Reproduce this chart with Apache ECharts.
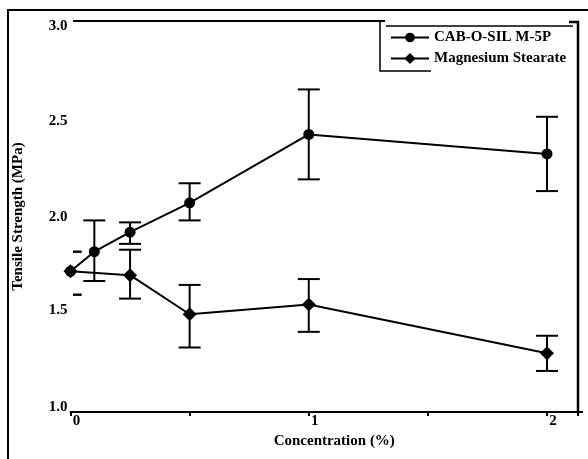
<!DOCTYPE html>
<html><head><meta charset="utf-8">
<script src="https://cdn.jsdelivr.net/npm/echarts@6/dist/echarts.min.js"></script>
<style>html,body{margin:0;padding:0;background:#fff}#c{width:588px;height:459px}</style>
</head><body><div id="c"></div>
<script>
// ---- data ----
const seriesNames = ['CAB-O-SIL M-5P', 'Magnesium Stearate'];
const xLabelValues = [0, 1, 2];
const yTickLabels = ['1.0', '1.5', '2.0', '2.5', '3.0'];

const cabX    = [0,    0.1,  0.25, 0.5,  1,    2];
const cabMean = [1.72, 1.82, 1.92, 2.07, 2.42, 2.32];
const cabLow  = [1.60, 1.67, 1.86, 1.98, 2.19, 2.13];
const cabHigh = [1.82, 1.98, 1.97, 2.17, 2.65, 2.51];

const mgX    = [0,    0.25, 0.5,  1,    2];
const mgMean = [1.72, 1.70, 1.50, 1.55, 1.30];
const mgLow  = [1.60, 1.58, 1.33, 1.41, 1.21];
const mgHigh = [1.82, 1.83, 1.65, 1.68, 1.39];

// ---- build ----
const FONT = '"Liberation Serif","Times New Roman",serif';
const zip2 = (a, b) => a.map((v, i) => [v, b[i]]);
const zip3 = (a, b, c) => a.map((v, i) => [v, b[i], c[i]]);
const yLabelStyle = ['u5', 'u4', 'n', 'd2', 'd5'];
const lab = { fontFamily: FONT, fontWeight: 'bold', fontSize: 15, color: '#000' };

function errRender(params, api) {
  const x = api.value(0), lo = api.value(1), hi = api.value(2);
  const top = api.coord([x, hi]);
  const bot = api.coord([x, lo]);
  const half = 11;
  const cs = params.coordSys;
  const rect = { x: cs.x + 2.5, y: cs.y, width: cs.width - 2.5, height: cs.height };
  const children = [];
  if (top[0] >= rect.x) {
    children.push({ type: 'line', shape: { x1: top[0], y1: top[1], x2: bot[0], y2: bot[1] },
      style: { stroke: '#000', lineWidth: 2 } });
  }
  [top, bot].forEach(p => {
    const seg = echarts.graphic.clipPointsByRect([[p[0] - half, p[1]], [p[0] + half, p[1]]], rect);
    children.push({ type: 'line', shape: { x1: seg[0][0], y1: seg[0][1], x2: seg[1][0], y2: seg[1][1] },
      style: { stroke: '#000', lineWidth: 2 } });
  });
  return { type: 'group', children };
}

const chart = echarts.init(document.getElementById('c'));
chart.setOption({
  animation: false,
  backgroundColor: '#fff',
  textStyle: { fontFamily: FONT },
  grid: { left: 70.5, right: 10, top: 21, bottom: 47, containLabel: false },
  xAxis: {
    type: 'value', min: 0, max: 2.13, interval: 0.5,
    name: 'Concentration (%)', nameLocation: 'middle', nameGap: 19,
    nameTextStyle: Object.assign({}, lab, { padding: [0, 0, 0, 20] }),
    axisLine: { show: true, lineStyle: { color: '#000', width: 2 } },
    axisTick: { show: true, inside: false, length: 4, lineStyle: { color: '#000', width: 2 } },
    splitLine: { show: false },
    axisLabel: Object.assign({}, lab, {
      margin: 2, padding: [0, 0, 0, 12],
      formatter: v => (xLabelValues.indexOf(v) >= 0 ? String(v) : '')
    })
  },
  yAxis: {
    type: 'value', min: 1, max: 3, interval: 0.5,
    name: 'Tensile Strength (MPa)', nameLocation: 'middle', nameGap: 45,
    nameTextStyle: lab,
    axisLine: { show: false }, axisTick: { show: false }, splitLine: { show: false },
    axisLabel: Object.assign({}, lab, {
      margin: 3,
      formatter: v => {
        const i = Math.round((v - 1) / 0.5);
        return '{' + yLabelStyle[i] + '|' + yTickLabels[i] + '}';
      },
      rich: {
        u5: Object.assign({}, lab, { padding: [0, 0, 10, 0] }),
        u4: Object.assign({}, lab, { padding: [0, 0, 8, 0] }),
        n:  Object.assign({}, lab, { padding: [2, 0, 0, 0] }),
        d2: Object.assign({}, lab, { padding: [4, 0, 0, 0] }),
        d5: Object.assign({}, lab, { padding: [10, 0, 0, 0] })
      }
    })
  },
  legend: [
    { data: [seriesNames[0]], left: 385, top: 25, itemWidth: 38, itemHeight: 12, itemGap: 0,
      textStyle: Object.assign({}, lab, { padding: [6, 0, 0, 0] }) },
    { data: [seriesNames[1]], left: 385, top: 46, itemWidth: 38, itemHeight: 14, itemGap: 0,
      textStyle: Object.assign({}, lab, { padding: [6, 0, 0, 0] }) }
  ],
  series: [
    { name: seriesNames[0], type: 'line', data: zip2(cabX, cabMean), symbol: 'circle', symbolSize: 11,
      itemStyle: { color: '#000' }, lineStyle: { color: '#000', width: 2 }, z: 3 },
    { name: seriesNames[1], type: 'line', data: zip2(mgX, mgMean), symbol: 'diamond', symbolSize: 14,
      itemStyle: { color: '#000' }, lineStyle: { color: '#000', width: 2 }, z: 3 },
    { type: 'custom', data: zip3(cabX, cabLow, cabHigh), renderItem: errRender, z: 2, silent: true },
    { type: 'custom', data: zip3(mgX, mgLow, mgHigh), renderItem: errRender, z: 2, silent: true }
  ],
  graphic: [
    { type: 'polyline', shape: { points: [[8, 459], [8, 10], [588, 10]] }, style: { stroke: '#000', lineWidth: 2, fill: null } },
    { type: 'line', shape: { x1: 73, y1: 21, x2: 385, y2: 21 }, style: { stroke: '#000', lineWidth: 2 } },
    { type: 'polyline', shape: { points: [[569, 22], [578, 22], [578, 413]] }, style: { stroke: '#000', lineWidth: 2.5, fill: null } },
    { type: 'line', shape: { x1: 578, y1: 412, x2: 583, y2: 412 }, style: { stroke: '#000', lineWidth: 2 } },
    { type: 'polyline', shape: { points: [[380, 21], [380, 71], [431, 71]] }, style: { stroke: '#000', lineWidth: 1.5, fill: null } },
    { type: 'line', shape: { x1: 386, y1: 26, x2: 573, y2: 26 }, style: { stroke: '#000', lineWidth: 1.5 } }
  ]
});
</script></body></html>
